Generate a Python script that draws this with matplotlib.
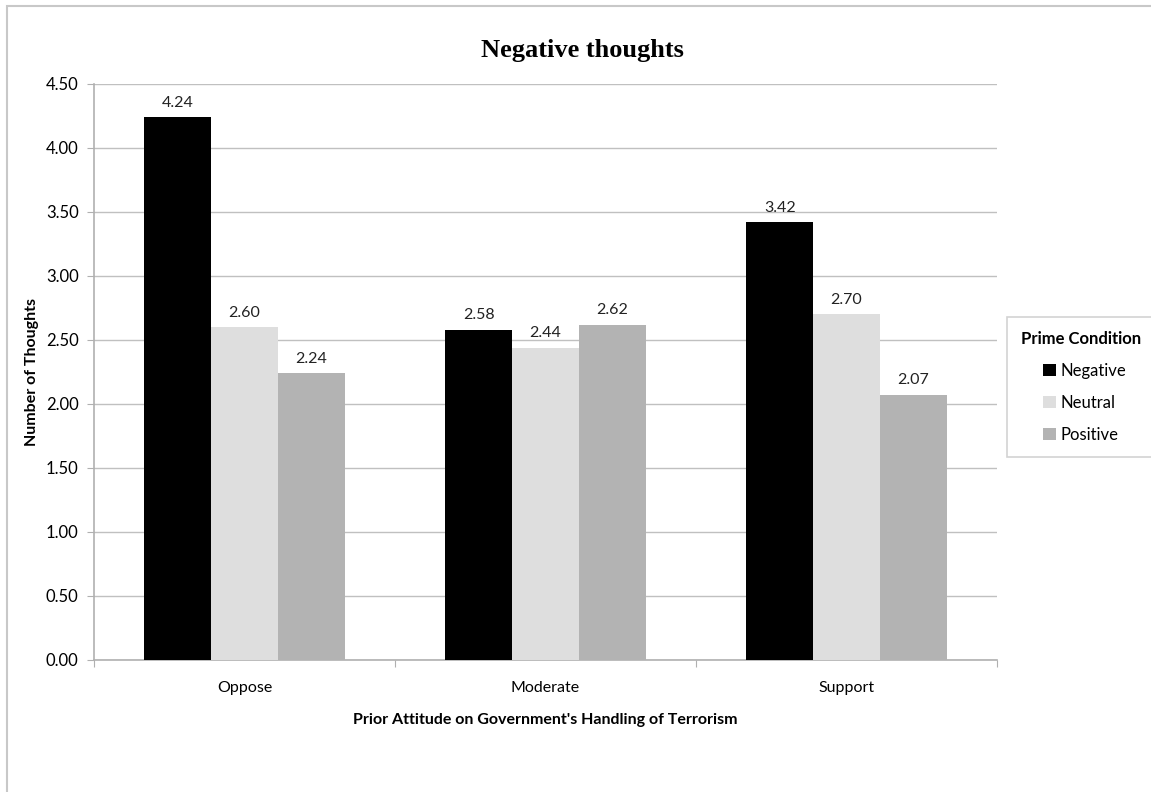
import numpy as np
import matplotlib.pyplot as plt
from matplotlib.patches import Rectangle
from matplotlib.offsetbox import HPacker, DrawingArea

# 數據
categories = ['Oppose', 'Moderate', 'Support']
conditions = ['Negative', 'Neutral', 'Positive']
negative = [4.24, 2.58, 3.42]
neutral = [2.60, 2.44, 2.70]
positive = [2.24, 2.62, 2.07]
colors = ['#000000', '#dedede', '#b3b3b3']

plt.rcParams['font.family'] = ['Lato', 'DejaVu Sans']
FS = 11.5

fig = plt.figure(figsize=(11.51, 7.92), dpi=100)
ax = fig.add_axes([94 / 1151, 1 - 660 / 792, 903 / 1151, 576 / 792])

# 外框 (只看到左邊與上邊)
fig.patches.append(Rectangle((7 / 1151, -0.1), 1.2, 1 - 6 / 792 + 0.1,
                             transform=fig.transFigure, fill=False,
                             edgecolor='#c8c8c8', linewidth=1.5))

x = np.arange(len(categories))
w = 0.222
handles = []
for i, (vals, name) in enumerate(zip([negative, neutral, positive], conditions)):
    bars = ax.bar(x + (i - 1) * w, vals, w, color=colors[i], label=name, zorder=3)
    handles.append(bars)
    for b, v in zip(bars, vals):
        ax.text(b.get_x() + b.get_width() / 2, v + 0.06, f'{v:.2f}',
                ha='center', va='bottom', fontsize=FS, color='#222222')

ax.set_xlim(-0.5, 2.5)
ax.set_ylim(0, 4.5)
yt = np.arange(0, 4.51, 0.5)
ax.set_yticks(yt)
ax.set_yticklabels([f'{t:.2f}' for t in yt], fontsize=FS + 0.5)
ax.yaxis.grid(True, color='#c0c0c0', linewidth=1, zorder=0)
ax.set_axisbelow(True)

# 類別之間的刻度
ax.set_xticks([-0.5, 0.5, 1.5, 2.5])
ax.set_xticklabels([])
ax.set_xticks(x, minor=True)
ax.set_xticklabels(categories, minor=True, fontsize=FS)
ax.tick_params(axis='x', which='minor', length=0, pad=15)
ax.tick_params(axis='x', which='major', length=5, color='#b0b0b0')
ax.tick_params(axis='y', length=5, color='#b0b0b0', pad=6)

for s in ['top', 'right']:
    ax.spines[s].set_visible(False)
for s in ['left', 'bottom']:
    ax.spines[s].set_color('#b0b0b0')
    ax.spines[s].set_linewidth(1.2)

ax.set_xlabel("Prior Attitude on Government's Handling of Terrorism",
              fontsize=FS, fontweight='bold', labelpad=13)
ax.set_ylabel('Number of Thoughts', fontsize=FS, fontweight='bold', labelpad=5)

fig.text(582 / 1151, 1 - 50 / 792, 'Negative thoughts', ha='center', va='center',
         fontsize=19, fontweight='bold', family='Liberation Serif')

# 圖例：標題靠左，項目縮排
leg = fig.legend(handles=handles, labels=conditions, loc='upper left',
                 bbox_to_anchor=(1007 / 1151, 1 - 317 / 792),
                 title='Prime Condition', fontsize=FS + 0.5, frameon=True,
                 fancybox=False, handlelength=0.75, handleheight=0.75,
                 handletextpad=0.3, labelspacing=0.95, borderpad=0.85,
                 borderaxespad=0)
leg.get_title().set_fontweight('bold')
leg.get_title().set_fontsize(FS + 0.5)
leg._legend_box.align = 'left'
leg.get_frame().set_edgecolor('#c8c8c8')
leg.get_frame().set_linewidth(1.2)
leg._legend_box._children[1] = HPacker(
    pad=0, sep=0, align='top',
    children=[DrawingArea(16, 1), leg._legend_handle_box])

fig.savefig('out.png', dpi=100)
